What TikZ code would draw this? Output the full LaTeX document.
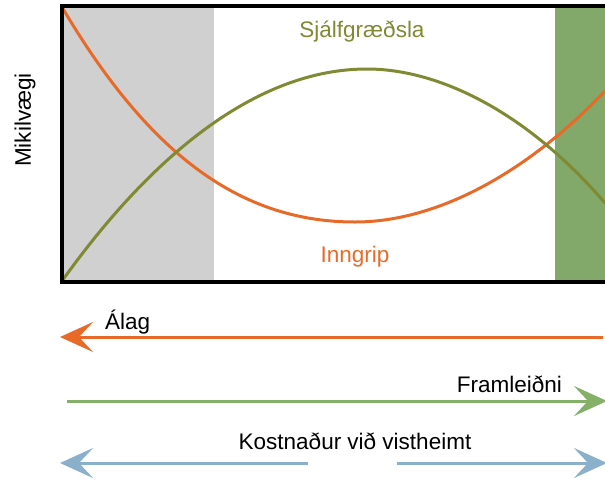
\documentclass[tikz,border=0pt]{standalone}
\usepackage{fontspec}
\setmainfont{Liberation Sans}
\usetikzlibrary{arrows.meta,positioning,calc}
\definecolor{inngrip}{RGB}{232,106,40}
\definecolor{olive}{RGB}{127,138,51}
\definecolor{fieldgreen}{RGB}{131,169,106}
\definecolor{prodgreen}{RGB}{132,176,104}
\definecolor{costblue}{RGB}{139,176,203}
\definecolor{greyband}{RGB}{208,208,208}
\tikzset{
  lbl/.style={font=\fontsize{22.5}{26}\selectfont, inner sep=0pt},
  curve/.style={line width=3pt, line join=round},
  bigarrow/.style={line width=3pt, -{Stealth[length=33pt, width=30pt, inset=14pt]}}
}

\begin{document}
\begin{tikzpicture}[x=1pt, y=-1pt]
\useasboundingbox (0,0) rectangle (605,480);

\begin{scope}
\clip (0,0) rectangle (605,480);
% shaded bands
\fill[greyband] (62,6) rectangle (214,282);
\fill[fieldgreen] (555,6) rectangle (640,282);
% the two curves
\draw[curve, inngrip] (62,7) .. controls (152,160) and (245,222) .. (355,222)
  .. controls (435,222) and (525,175) .. (605,91);
\draw[curve, olive] (62,281) .. controls (152,155) and (257,69) .. (367,69)
  .. controls (437,69) and (525,110) .. (605,203);
%\draw[thick] (62,6) rectangle (640,282);
\draw[line width=3.5pt] (62,6) rectangle (660,282);
\end{scope}

\node[lbl, olive] (sjalf) at (362,32) {Sjálfgræðsla};
\node[lbl, inngrip] (inngrip) at (355,257) {Inngrip};
\node[lbl, rotate=90] (mikil) at (25,120) {Mikilvægi};

% arrows underneath
\coordinate (alagR) at (603,337); \coordinate (alagL) at (60,337);
\coordinate (framL) at (67,401); \coordinate (framR) at (607,401);
\coordinate (kostL) at (308,463); \coordinate (kostLtip) at (60,463);
\coordinate (kostR) at (397,463); \coordinate (kostRtip) at (607,463);

\draw[bigarrow, inngrip] (alagR) -- (alagL);
\draw[bigarrow, prodgreen] (framL) -- (framR);
\draw[bigarrow, costblue] (kostL) -- (kostLtip);
\draw[bigarrow, costblue] (kostR) -- (kostRtip);

\node[lbl, anchor=west] (alag) at (105,322) {Álag};
\node[lbl, anchor=east] (fram) at (562,384) {Framleiðni};
\node[lbl] (kost) at (355,441) {Kostnaður við vistheimt};
\end{tikzpicture}
\end{document}
